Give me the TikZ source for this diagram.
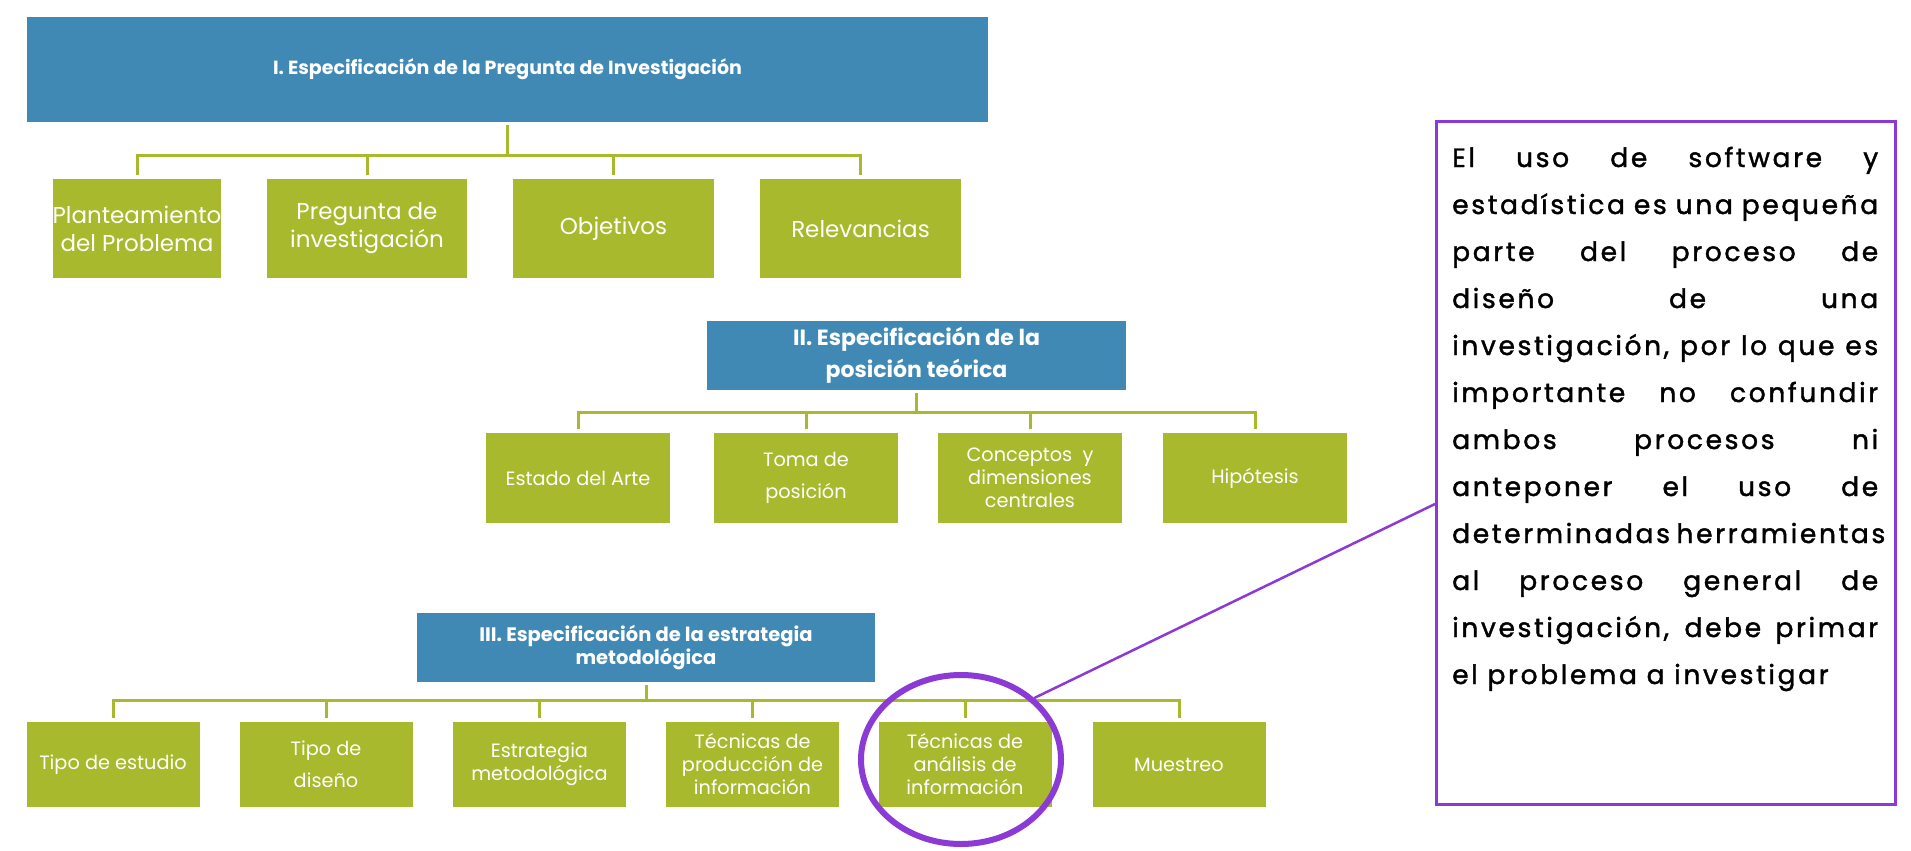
\documentclass[tikz,border=0pt]{standalone}
\usepackage{fontspec}
\setmainfont{Poppins}
\newfontfamily\notefont[LetterSpace=10,FakeBold=1.5]{Poppins}
\usetikzlibrary{shapes.geometric,calc}
\definecolor{bblue}{HTML}{4189B5}
\definecolor{bgreen}{HTML}{A8B92D}
\definecolor{bpurple}{HTML}{8B3AD6}
\newcommand{\jl}[1]{\makebox[\linewidth][s]{#1}\\}
\tikzset{
  head/.style={fill=bblue, text=white, inner sep=0pt, align=center},
  leaf/.style={fill=bgreen, text=white, inner sep=0pt, align=center},
  conn/.style={draw=bgreen, line width=3pt, shorten >=4pt, shorten <=3pt},
  fbig/.style={font=\fontsize{23}{28}\selectfont},
  fsmall/.style={font=\fontsize{19.3}{23}\selectfont},
  fsmallwide/.style={font=\fontsize{19.3}{32}\selectfont},
}
\begin{document}
\begin{tikzpicture}[x=1pt,y=-1pt]
\path[use as bounding box, fill=white] (0,0) rectangle (1911,851);

% Level I
\node[head, font=\bfseries\fontsize{19}{23}\selectfont, minimum width=961pt, minimum height=105pt] (b1) at (507.5,69.5) {I. Especificación de la Pregunta de Investigación};
\node[leaf, fbig, minimum width=166pt, minimum height=99pt] (p1) at (137,228.5) {Planteamiento\\del Problema};
\node[leaf, fbig, minimum width=200pt, minimum height=99pt] (p2) at (367,228.5) {Pregunta de\\investigación};
\node[leaf, fbig, minimum width=201pt, minimum height=99pt] (p3) at (613.5,228.5) {Objetivos};
\node[leaf, fbig, minimum width=201pt, minimum height=99pt] (p4) at (860.5,228.5) {Relevancias};
\coordinate (j1) at ($(b1.south)+(0,33)$);
\draw[conn, shorten >=0pt] (b1.south) -- (j1);
\foreach \n in {p1,p2,p3,p4} \draw[conn, shorten <=0pt] (j1) -| (\n.north);

% Level II
\node[head, font=\bfseries\fontsize{22}{32}\selectfont, minimum width=419pt, minimum height=69pt] (b2) at (916.5,355.5) {II. Especificación de la\\posición teórica};
\node[leaf, fsmall, minimum width=184pt, minimum height=90pt] (q1) at (578,478) {Estado del Arte};
\node[leaf, fsmallwide, minimum width=184pt, minimum height=90pt] (q2) at (806,478) {Toma de\\posición};
\node[leaf, fsmall, minimum width=184pt, minimum height=90pt] (q3) at (1030,478) {Conceptos~ y\\dimensiones\\centrales};
\node[leaf, fsmall, minimum width=184pt, minimum height=90pt] (q4) at (1255,478) {Hipótesis};
\coordinate (j2) at ($(b2.south)+(0,22)$);
\draw[conn, shorten >=0pt] (b2.south) -- (j2);
\foreach \n in {q1,q2,q3,q4} \draw[conn, shorten <=0pt] (j2) -| (\n.north);

% Level III
\node[head, font=\bfseries\fontsize{19.5}{23}\selectfont, minimum width=458pt, minimum height=69pt] (b3) at (646,647.5) {III. Especificación de la estrategia\\metodológica};
\node[leaf, fsmall, minimum width=173pt, minimum height=85pt] (r1) at (113,764.5) {Tipo de estudio};
\node[leaf, fsmallwide, minimum width=173pt, minimum height=85pt] (r2) at (326,764.5) {Tipo de\\diseño};
\node[leaf, fsmall, minimum width=173pt, minimum height=85pt] (r3) at (539.5,764.5) {Estrategia\\metodológica};
\node[leaf, fsmall, minimum width=173pt, minimum height=85pt] (r4) at (752.5,764.5) {Técnicas de\\producción de\\información};
\node[leaf, fsmall, minimum width=173pt, minimum height=85pt] (r5) at (965,764.5) {Técnicas de\\análisis de\\información};
\node[leaf, fsmall, minimum width=173pt, minimum height=85pt] (r6) at (1179,764.5) {Muestreo};
\coordinate (j3) at ($(b3.south)+(0,18)$);
\draw[conn, shorten >=0pt] (b3.south) -- (j3);
\foreach \n in {r1,r2,r3,r4,r5,r6} \draw[conn, shorten <=0pt] (j3) -| (\n.north);

% Highlight ellipse and note
\node[ellipse, draw=bpurple, line width=6pt, minimum width=200pt, minimum height=169pt, inner sep=0pt] (ell) at (961,759.5) {};
\node[draw=bpurple, line width=3pt, minimum width=459pt, minimum height=683pt, inner sep=0pt] (tb) at (1666,463) {};
\coordinate (tbp) at ($(tb.west)+(0,41)$);
\draw[bpurple, line width=2.5pt] (ell.40) -- (tbp);
\node[anchor=base west, inner sep=0pt] (note) at (1452,167) {\parbox[t]{426pt}{\notefont\fontsize{26.5}{47}\selectfont\noindent
\jl{El uso de software y}
\jl{estadística es una pequeña}
\jl{parte del proceso de}
\jl{diseño de una}
\jl{investigación, por lo que es}
\jl{importante no confundir}
\jl{ambos procesos ni}
\jl{anteponer el uso de}
\jl{determinadas herramientas}
\jl{al proceso general de}
\jl{investigación, debe primar}
el problema a investigar}};
\end{tikzpicture}
\end{document}
